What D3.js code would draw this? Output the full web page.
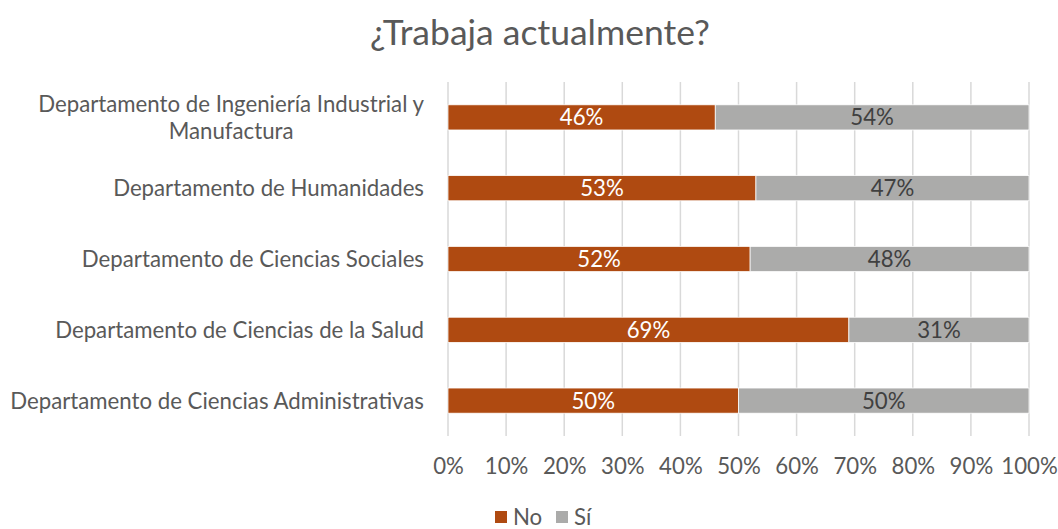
<!DOCTYPE html>
<html><head><meta charset="utf-8">
<script src="https://cdn.jsdelivr.net/npm/d3@7"></script>
<style>body{margin:0;background:#fff}svg{display:block}text{font-family:"Lato",sans-serif}</style>
</head><body>
<svg id="c" width="1058" height="529"></svg>
<script>
const categories = [
  ["Departamento de Ingeniería Industrial y","Manufactura"],
  ["Departamento de Humanidades"],
  ["Departamento de Ciencias Sociales"],
  ["Departamento de Ciencias de la Salud"],
  ["Departamento de Ciencias Administrativas"]
];
const seriesNames = ["No","Sí"];
const noValues = [46, 53, 52, 69, 50];
const siValues = [54, 47, 48, 31, 50];
const tickValues = [0,10,20,30,40,50,60,70,80,90,100];
const title = "¿Trabaja actualmente?";

const colors = {No:"#AF4A11", "Sí":"#ABABAA"};
const svg = d3.select("#c");

const probe = svg.append("text").style("font-size","20px").text("Departamento de Ciencias Administrativas");
const fs = 20 * 414 / probe.node().getComputedTextLength();
probe.remove();
const probe2 = svg.append("text").style("font-size","30px").text(title);
const tfs = 30 * 340 / probe2.node().getComputedTextLength();
probe2.remove();

const x = d3.scaleLinear().domain([0,100]).range([448,1029]);
const y = d3.scaleBand().domain(d3.range(categories.length)).range([82,436]).paddingInner(0.645).paddingOuter(0.3225);

svg.append("g").selectAll("line").data(tickValues).join("line")
  .attr("x1",d=>x(d)).attr("x2",d=>x(d)).attr("y1",82).attr("y2",436)
  .attr("stroke","#D9D9D9").attr("stroke-width",1.5);

const ax = svg.append("g").attr("transform","translate(0,436)")
  .call(d3.axisBottom(x).tickValues(tickValues).tickFormat(d=>d+"%").tickSize(0).tickPadding(22));
ax.select(".domain").remove();
ax.selectAll("text").attr("fill","#595959").style("font-size",fs+"px").style("font-family","Lato,sans-serif");

const rows = categories.map((c,i)=>({i, vals:[{k:"No",v0:0,v1:noValues[i]},{k:"Sí",v0:noValues[i],v1:noValues[i]+siValues[i]}]}));
const g = svg.append("g").selectAll("g").data(rows).join("g");
g.selectAll("rect").data(r=>r.vals.map(v=>({...v,i:r.i}))).join("rect")
  .attr("x",d=>x(d.v0)).attr("width",d=>x(d.v1)-x(d.v0))
  .attr("y",d=>y(d.i)).attr("height",y.bandwidth())
  .attr("fill",d=>colors[d.k]).attr("stroke","#fff").attr("stroke-width",0.75);
g.selectAll("text").data(r=>r.vals.map(v=>({...v,i:r.i}))).join("text")
  .attr("x",d=>x((d.v0+d.v1)/2)).attr("y",d=>y(d.i)+y.bandwidth()/2)
  .attr("dy","0.36em").attr("text-anchor","middle")
  .attr("fill",d=>d.k==="No"?"#fff":"#404040").style("font-size",fs+"px")
  .text(d=>(d.v1-d.v0)+"%");

categories.forEach((lines,i)=>{
  const cy = y(i)+y.bandwidth()/2;
  const t = svg.append("text").attr("fill","#595959").style("font-size",fs+"px");
  if(lines.length===1){
    t.attr("x",424).attr("y",cy).attr("dy","0.36em").attr("text-anchor","end").text(lines[0]);
  } else {
    t.attr("text-anchor","middle");
    const tmp = svg.append("text").style("font-size",fs+"px").text(lines[0]);
    const w0 = tmp.node().getComputedTextLength(); tmp.remove();
    lines.forEach((l,j)=>{
      t.append("tspan").attr("x",424-w0/2).attr("y",cy+(j-0.5)*27).attr("dy","0.36em").text(l);
    });
  }
});

svg.append("text").attr("x",540).attr("y",32).attr("dy","0.36em").attr("text-anchor","middle")
  .attr("fill","#595959").style("font-size",tfs+"px").text(title);

const leg = svg.append("g");
const lx = [495, 556];
seriesNames.forEach((s,i)=>{
  leg.append("rect").attr("x",lx[i]).attr("y",511).attr("width",12).attr("height",12).attr("fill",colors[s]);
  leg.append("text").attr("x",lx[i]+18).attr("y",517).attr("dy","0.36em").attr("fill","#595959").style("font-size",fs+"px").text(s);
});
</script>
</body></html>
